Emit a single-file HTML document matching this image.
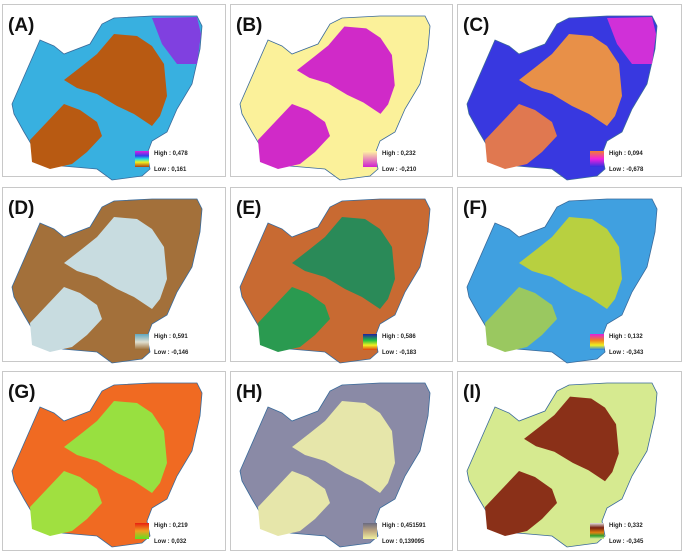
<!DOCTYPE html>
<html><head><meta charset="utf-8"><style>
html,body{margin:0;padding:0;background:#fff;width:686px;height:553px;overflow:hidden}
text{font-family:"Liberation Sans",sans-serif}
.lab{font-size:19px;font-weight:bold;fill:#111}
.lg{font-size:6px;font-weight:bold;fill:#222}
</style></head><body>
<svg width="686" height="553" viewBox="0 0 686 553" xmlns="http://www.w3.org/2000/svg">
<defs>
<path id="ws" d="M10,100 L38,36 L52,42 L62,50 L88,40 L100,20 L112,14 L150,12 L195,12 L200,22 L198,45 L190,80 L175,105 L165,128 L150,137 L145,150 L148,165 L140,172 L110,176 L95,165 L60,162 L35,150 L22,128 L12,110 Z"/>
<path id="r1" d="M62,76 L80,62 L95,50 L112,30 L135,32 L150,42 L162,60 L165,92 L158,112 L150,122 L132,110 L115,102 L95,90 L75,84 Z"/>
<path id="r2" d="M28,136 L45,118 L62,100 L78,106 L95,118 L100,132 L85,148 L70,160 L48,165 L30,158 Z"/>
<path id="tr" d="M150,14 L195,13 L199,30 L195,60 L175,60 L160,40 Z"/>
<linearGradient id="gA" x1="0" y1="0" x2="0" y2="1"><stop offset="0" stop-color="#e020e0"/><stop offset=".3" stop-color="#3040f0"/><stop offset=".5" stop-color="#20e0e0"/><stop offset=".7" stop-color="#f0f020"/><stop offset="1" stop-color="#b04010"/></linearGradient>
<linearGradient id="gB" x1="0" y1="0" x2="0" y2="1"><stop offset="0" stop-color="#fff8a0"/><stop offset="1" stop-color="#d020d0"/></linearGradient>
<linearGradient id="gC" x1="0" y1="0" x2="0" y2="1"><stop offset="0" stop-color="#f08030"/><stop offset=".5" stop-color="#f020e0"/><stop offset="1" stop-color="#3030e0"/></linearGradient>
<linearGradient id="gD" x1="0" y1="0" x2="0" y2="1"><stop offset="0" stop-color="#60a8c0"/><stop offset=".5" stop-color="#e0e0d0"/><stop offset="1" stop-color="#9a6a30"/></linearGradient>
<linearGradient id="gE" x1="0" y1="0" x2="0" y2="1"><stop offset="0" stop-color="#2020a0"/><stop offset=".4" stop-color="#20c040"/><stop offset=".7" stop-color="#f0f020"/><stop offset="1" stop-color="#e04010"/></linearGradient>
<linearGradient id="gF" x1="0" y1="0" x2="0" y2="1"><stop offset="0" stop-color="#e020e0"/><stop offset=".4" stop-color="#f08020"/><stop offset=".7" stop-color="#f0f020"/><stop offset="1" stop-color="#2080f0"/></linearGradient>
<linearGradient id="gG" x1="0" y1="0" x2="0" y2="1"><stop offset="0" stop-color="#e82010"/><stop offset=".5" stop-color="#f0a020"/><stop offset="1" stop-color="#60e020"/></linearGradient>
<linearGradient id="gH" x1="0" y1="0" x2="0" y2="1"><stop offset="0" stop-color="#6a6a80"/><stop offset=".5" stop-color="#c0a880"/><stop offset="1" stop-color="#f0f0a0"/></linearGradient>
<linearGradient id="gI" x1="0" y1="0" x2="0" y2="1"><stop offset="0" stop-color="#e0e0e0"/><stop offset=".3" stop-color="#7a2010"/><stop offset=".6" stop-color="#e08010"/><stop offset=".8" stop-color="#30a030"/><stop offset="1" stop-color="#e0f0a0"/></linearGradient>
</defs>

<!-- Panel A -->
<g transform="translate(2,4)">
<rect x="0.5" y="0.5" width="223" height="172" fill="#fff" stroke="#c8c8c8"/>
<use href="#ws" fill="#38b0e0" stroke="#3a6a9a" stroke-width=".8"/>
<use href="#tr" fill="#8040e0"/>
<use href="#r1" fill="#b85a12"/><use href="#r2" fill="#b85a12"/>
<text class="lab" x="6" y="27">(A)</text>
<rect x="133" y="147" width="14" height="16" fill="url(#gA)"/>
<text class="lg" x="152" y="151">High : 0,478</text><text class="lg" x="152" y="167">Low : 0,161</text>
</g>

<!-- Panel B -->
<g transform="translate(230,4)">
<rect x="0.5" y="0.5" width="222" height="172" fill="#fff" stroke="#c8c8c8"/>
<use href="#ws" fill="#fbf19a" stroke="#3a6a9a" stroke-width=".8"/>
<use href="#r1" fill="#d02ac8" transform="translate(8,-6) scale(0.95)"/><use href="#r2" fill="#d02ac8"/>
<text class="lab" x="6" y="27">(B)</text>
<rect x="133" y="147" width="14" height="16" fill="url(#gB)"/>
<text class="lg" x="152" y="151">High : 0,232</text><text class="lg" x="152" y="167">Low : -0,210</text>
</g>

<!-- Panel C -->
<g transform="translate(457,4)">
<rect x="0.5" y="0.5" width="224" height="172" fill="#fff" stroke="#c8c8c8"/>
<use href="#ws" fill="#3838e0" stroke="#3a6a9a" stroke-width=".8"/>
<use href="#tr" fill="#d030d8"/>
<use href="#r1" fill="#e89048"/><use href="#r2" fill="#e07850"/>
<text class="lab" x="6" y="27">(C)</text>
<rect x="133" y="147" width="14" height="16" fill="url(#gC)"/>
<text class="lg" x="152" y="151">High : 0,094</text><text class="lg" x="152" y="167">Low : -0,678</text>
</g>

<!-- Panel D -->
<g transform="translate(2,187)">
<rect x="0.5" y="0.5" width="223" height="174" fill="#fff" stroke="#c8c8c8"/>
<use href="#ws" fill="#a3703a" stroke="#3a6a9a" stroke-width=".8"/>
<use href="#r1" fill="#c8dce0"/><use href="#r2" fill="#c8dce0"/>
<text class="lab" x="6" y="27">(D)</text>
<rect x="133" y="147" width="14" height="16" fill="url(#gD)"/>
<text class="lg" x="152" y="151">High : 0,591</text><text class="lg" x="152" y="167">Low : -0,146</text>
</g>

<!-- Panel E -->
<g transform="translate(230,187)">
<rect x="0.5" y="0.5" width="222" height="174" fill="#fff" stroke="#c8c8c8"/>
<use href="#ws" fill="#c86a32" stroke="#3a6a9a" stroke-width=".8"/>
<use href="#r1" fill="#2a8a58"/><use href="#r2" fill="#2a9a50"/>
<text class="lab" x="6" y="27">(E)</text>
<rect x="133" y="147" width="14" height="16" fill="url(#gE)"/>
<text class="lg" x="152" y="151">High : 0,586</text><text class="lg" x="152" y="167">Low : -0,183</text>
</g>

<!-- Panel F -->
<g transform="translate(457,187)">
<rect x="0.5" y="0.5" width="224" height="174" fill="#fff" stroke="#c8c8c8"/>
<use href="#ws" fill="#40a0e0" stroke="#3a6a9a" stroke-width=".8"/>
<use href="#r1" fill="#b8d040"/><use href="#r2" fill="#9ac860"/>
<text class="lab" x="6" y="27">(F)</text>
<rect x="133" y="147" width="14" height="16" fill="url(#gF)"/>
<text class="lg" x="152" y="151">High : 0,132</text><text class="lg" x="152" y="167">Low : -0,343</text>
</g>

<!-- Panel G -->
<g transform="translate(2,371)">
<rect x="0.5" y="0.5" width="223" height="179" fill="#fff" stroke="#c8c8c8"/>
<use href="#ws" fill="#f06a22" stroke="#3a6a9a" stroke-width=".8"/>
<use href="#r1" fill="#98e040"/><use href="#r2" fill="#a0e040"/>
<text class="lab" x="6" y="27">(G)</text>
<rect x="133" y="152" width="14" height="16" fill="url(#gG)"/>
<text class="lg" x="152" y="156">High : 0,219</text><text class="lg" x="152" y="172">Low : 0,032</text>
</g>

<!-- Panel H -->
<g transform="translate(230,371)">
<rect x="0.5" y="0.5" width="222" height="179" fill="#fff" stroke="#c8c8c8"/>
<use href="#ws" fill="#8a8aa6" stroke="#3a6a9a" stroke-width=".8"/>
<use href="#r1" fill="#e6e6aa"/><use href="#r2" fill="#e6e6aa"/>
<text class="lab" x="6" y="27">(H)</text>
<rect x="133" y="152" width="14" height="16" fill="url(#gH)"/>
<text class="lg" x="152" y="156">High : 0,451591</text><text class="lg" x="152" y="172">Low : 0,139095</text>
</g>

<!-- Panel I -->
<g transform="translate(457,371)">
<rect x="0.5" y="0.5" width="224" height="179" fill="#fff" stroke="#c8c8c8"/>
<use href="#ws" fill="#d6ea90" stroke="#3a6a9a" stroke-width=".8"/>
<use href="#r1" fill="#8a3018" transform="translate(10,-2) scale(0.92)"/><use href="#r2" fill="#8a3018"/>
<text class="lab" x="6" y="27">(I)</text>
<rect x="133" y="152" width="14" height="16" fill="url(#gI)"/>
<text class="lg" x="152" y="156">High : 0,332</text><text class="lg" x="152" y="172">Low : -0,345</text>
</g>
</svg>
</body></html>
